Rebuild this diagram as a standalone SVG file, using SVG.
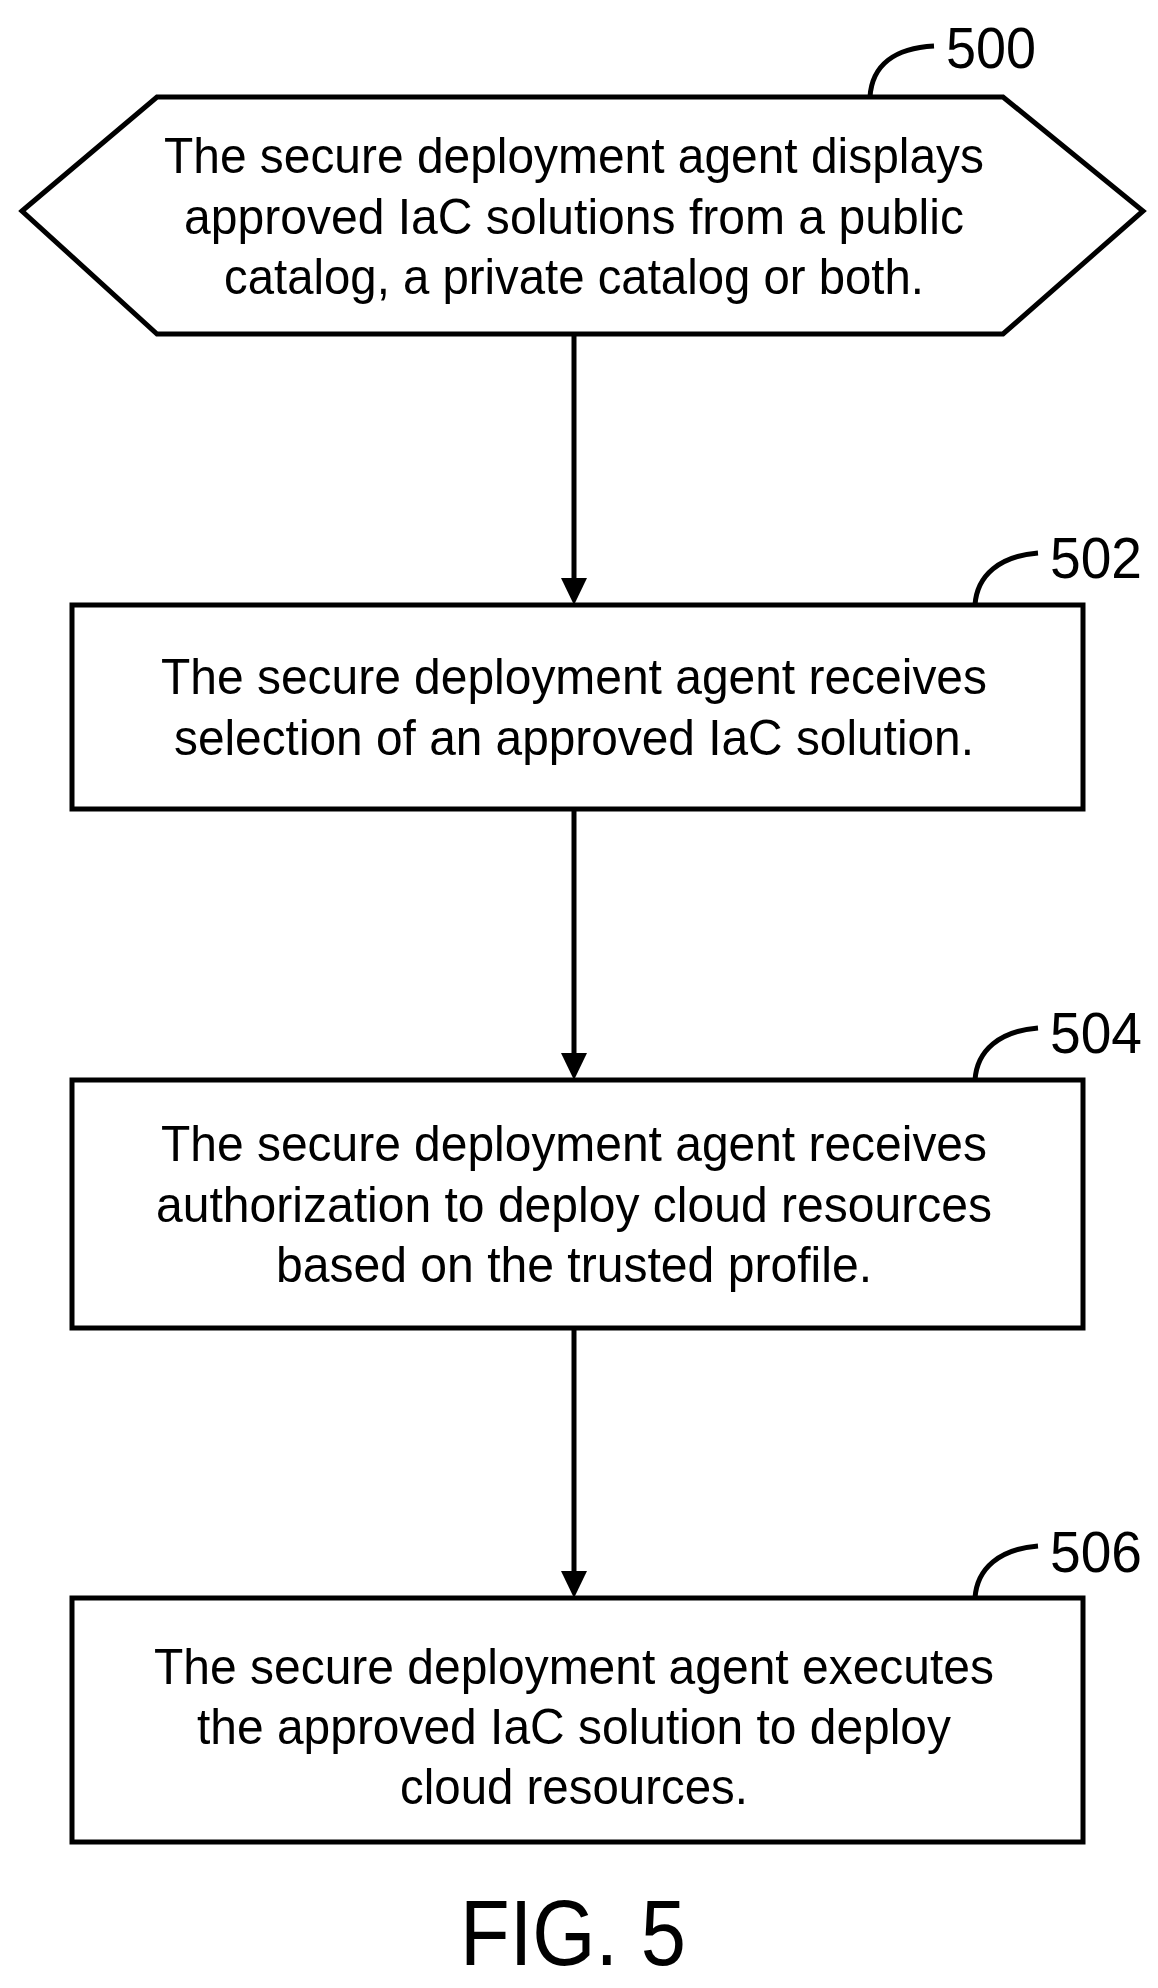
<svg xmlns="http://www.w3.org/2000/svg" width="1158" height="1988" viewBox="0 0 1158 1988">
<style>
.s{fill:#fff;stroke:#000;stroke-width:5}
.t{font-family:"Liberation Sans Narrow","Liberation Sans",Arial,sans-serif;font-size:50px;text-anchor:middle;fill:#000}
.l{font-family:"Liberation Sans Narrow","Liberation Sans",Arial,sans-serif;font-size:58px;fill:#000}
.c{fill:none;stroke:#000;stroke-width:5}
</style>
<g id="connectors">
<line x1="574" y1="336" x2="574" y2="580" class="c"/>
<path d="M574,605 l-13,-27 h26 z"/>
<line x1="574" y1="810" x2="574" y2="1055" class="c"/>
<path d="M574,1080 l-13,-27 h26 z"/>
<line x1="574" y1="1330" x2="574" y2="1573" class="c"/>
<path d="M574,1598 l-13,-27 h26 z"/>
</g>
<g id="n500">
<polygon class="s" points="22,211 157,97 1003,97 1143,211 1003,334 157,334"/>
<text class="t" x="574" y="173" textLength="820" lengthAdjust="spacingAndGlyphs">The secure deployment agent displays</text>
<text class="t" x="574" y="234" textLength="780" lengthAdjust="spacingAndGlyphs">approved IaC solutions from a public</text>
<text class="t" x="574" y="294" textLength="700" lengthAdjust="spacingAndGlyphs">catalog, a private catalog or both.</text>
<path class="c" d="M870,97 C872,65 895,48 934,46"/>
<text class="l" x="946" y="68" textLength="90" lengthAdjust="spacingAndGlyphs">500</text>
</g>
<g id="n502">
<rect class="s" x="72" y="605" width="1011" height="204"/>
<text class="t" x="574" y="694" textLength="826" lengthAdjust="spacingAndGlyphs">The secure deployment agent receives</text>
<text class="t" x="574" y="755" textLength="800" lengthAdjust="spacingAndGlyphs">selection of an approved IaC solution.</text>
<path class="c" d="M975,605 C977,575 1000,556 1038,553"/>
<text class="l" x="1050" y="578" textLength="92" lengthAdjust="spacingAndGlyphs">502</text>
</g>
<g id="n504">
<rect class="s" x="72" y="1080" width="1011" height="248"/>
<text class="t" x="574" y="1161" textLength="826" lengthAdjust="spacingAndGlyphs">The secure deployment agent receives</text>
<text class="t" x="574" y="1222" textLength="836" lengthAdjust="spacingAndGlyphs">authorization to deploy cloud resources</text>
<text class="t" x="574" y="1282" textLength="596" lengthAdjust="spacingAndGlyphs">based on the trusted profile.</text>
<path class="c" d="M975,1080 C977,1050 1000,1031 1038,1028"/>
<text class="l" x="1050" y="1053" textLength="92" lengthAdjust="spacingAndGlyphs">504</text>
</g>
<g id="n506">
<rect class="s" x="72" y="1598" width="1011" height="244"/>
<text class="t" x="574" y="1684" textLength="840" lengthAdjust="spacingAndGlyphs">The secure deployment agent executes</text>
<text class="t" x="574" y="1744" textLength="754" lengthAdjust="spacingAndGlyphs">the approved IaC solution to deploy</text>
<text class="t" x="574" y="1804" textLength="348" lengthAdjust="spacingAndGlyphs">cloud resources.</text>
<path class="c" d="M975,1598 C977,1568 1000,1549 1038,1546"/>
<text class="l" x="1050" y="1572" textLength="92" lengthAdjust="spacingAndGlyphs">506</text>
</g>
<text x="573" y="1965" text-anchor="middle" font-family="Liberation Sans Narrow,Liberation Sans,Arial,sans-serif" font-size="92" textLength="226" lengthAdjust="spacingAndGlyphs">FIG. 5</text>
</svg>
